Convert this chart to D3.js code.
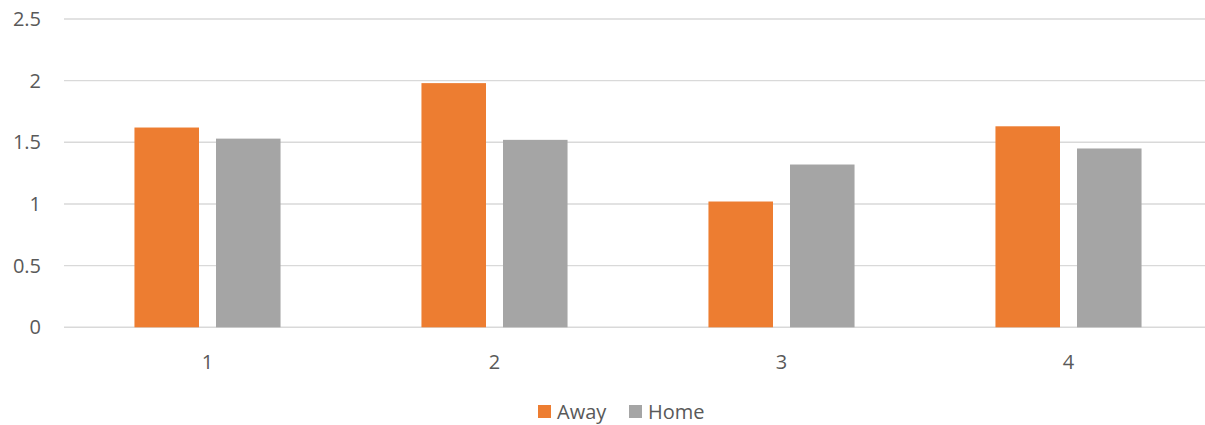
<!DOCTYPE html>
<html>
<head>
<meta charset="utf-8">
<script src="https://cdn.jsdelivr.net/npm/d3@7"></script>
<style>
  body { margin: 0; background: #fff; }
  svg { display: block; font-family: "Open Sans", sans-serif; }
</style>
</head>
<body>
<svg width="1205" height="425"></svg>
<script>
'use strict'

const categories = ['1', '2', '3', '4'];
const series = ['Away', 'Home'];
const away = [1.62, 1.98, 1.02, 1.63];
const home = [1.53, 1.52, 1.32, 1.45];
const yTicks = [0, 0.5, 1, 1.5, 2, 2.5];
const colors = ['#ED7D31', '#A5A5A5'];

const svg = d3.select('svg');
const plotLeft = 64;
const plotRight = 1212;
const plotTop = 19;
const plotBottom = 327.3;

const x = d3.scaleBand()
  .domain(categories)
  .range([plotLeft, plotRight])
  .paddingInner(0.491)
  .paddingOuter(0.2455);

const xs = d3.scaleBand()
  .domain(series)
  .range([0, x.bandwidth()])
  .paddingInner(0.2086)
  .paddingOuter(0);

const y = d3.scaleLinear()
  .domain([0, 2.5])
  .range([plotBottom, plotTop]);

// gridlines
svg.append('g')
  .selectAll('line')
  .data(yTicks)
  .join('line')
  .attr('x1', plotLeft)
  .attr('x2', plotRight)
  .attr('y1', d => y(d))
  .attr('y2', d => y(d))
  .attr('stroke', '#d9d9d9')
  .attr('stroke-width', 1.4);

// y labels
svg.append('g')
  .selectAll('text')
  .data(yTicks)
  .join('text')
  .attr('x', 41)
  .attr('y', d => y(d))
  .attr('dy', '0.35em')
  .attr('text-anchor', 'end')
  .attr('fill', '#595959')
  .style('font-size', '20px')
  .text(d => d);

// bars
const rows = categories.map((c, i) => ({ cat: c, values: [away[i], home[i]] }));

svg.append('g')
  .selectAll('g')
  .data(rows)
  .join('g')
  .attr('transform', d => `translate(${x(d.cat)},0)`)
  .selectAll('rect')
  .data(d => d.values.map((v, j) => ({ key: series[j], v: v, color: colors[j] })))
  .join('rect')
  .attr('x', d => xs(d.key))
  .attr('width', xs.bandwidth())
  .attr('y', d => y(d.v))
  .attr('height', d => y(0) - y(d.v))
  .attr('fill', d => d.color);

// x labels
svg.append('g')
  .selectAll('text')
  .data(categories)
  .join('text')
  .attr('x', d => x(d) + x.bandwidth() / 2)
  .attr('y', 369)
  .attr('text-anchor', 'middle')
  .attr('fill', '#595959')
  .style('font-size', '20px')
  .text(d => d);

// legend
const legendX = [538, 629];
const legend = svg.append('g')
  .selectAll('g')
  .data(series)
  .join('g')
  .attr('transform', (d, i) => `translate(${legendX[i]},405)`);

legend.append('rect')
  .attr('width', 13)
  .attr('height', 13)
  .attr('fill', (d, i) => colors[i]);

legend.append('text')
  .attr('x', 19)
  .attr('y', 6.5)
  .attr('dy', '0.35em')
  .attr('fill', '#595959')
  .style('font-size', '20px')
  .text(d => d);
</script>
</body>
</html>
